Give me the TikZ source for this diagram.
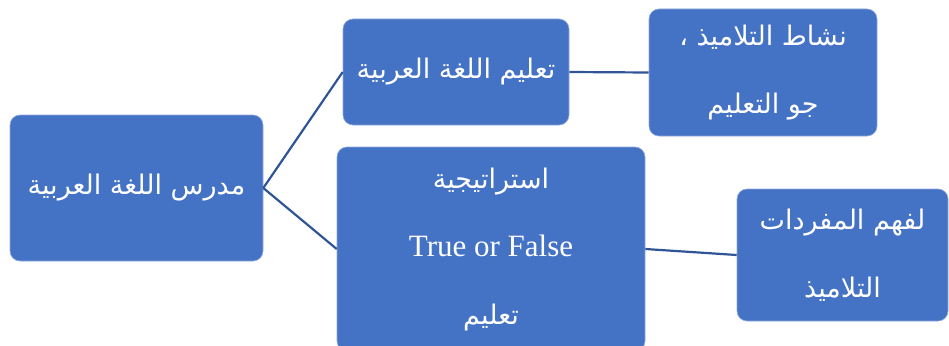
\documentclass[tikz,border=0pt]{standalone}
\usepackage{fontspec}
\setmainfont{Liberation Serif}
\newfontfamily\arabicfont[Script=Arabic]{DejaVu Sans}
\TeXXeTstate=1
\definecolor{boxblue}{HTML}{4472C4}
\definecolor{linkblue}{HTML}{2F5597}
\begin{document}
\begin{tikzpicture}[x=1pt,y=-1pt,
  box/.style={fill=boxblue, draw=boxblue!60!white, line width=0.6pt, rounded corners=10pt,
    text=white, align=center, inner sep=0pt,
    font=\fontsize{27}{68}\arabicfont},
  link/.style={draw=linkblue, line width=2.2pt}]
\useasboundingbox (0,0) rectangle (949,345);
\node[box, minimum width=253pt, minimum height=146pt] (teacher) at (136.5,188)
  {\beginR مدرس اللغة العربية\endR};
\node[box, minimum width=226pt, minimum height=106pt] (teach) at (456,72)
  {\beginR تعليم اللغة العربية\endR};
\node[box, minimum width=228pt, minimum height=127pt] (activity) at (763,72.5)
  {\beginR نشاط التلاميذ ،\endR\\\beginR جو التعليم\endR};
\node[box, minimum width=308pt, minimum height=204pt] (strategy) at (491,249)
  {\beginR استراتيجية\endR\\{\fontsize{31}{68}\rmfamily True or False}\\\beginR تعليم\endR};
\node[box, minimum width=211pt, minimum height=132pt] (vocab) at (842.5,255)
  {\beginR لفهم المفردات\endR\\\beginR التلاميذ\endR};
\draw[link] (teacher.east) -- (teach.west);
\draw[link] (teacher.east) -- (strategy.west);
\draw[link] (teach.east) -- (activity.west);
\draw[link] (strategy.east) -- (vocab.west);
\end{tikzpicture}
\end{document}
